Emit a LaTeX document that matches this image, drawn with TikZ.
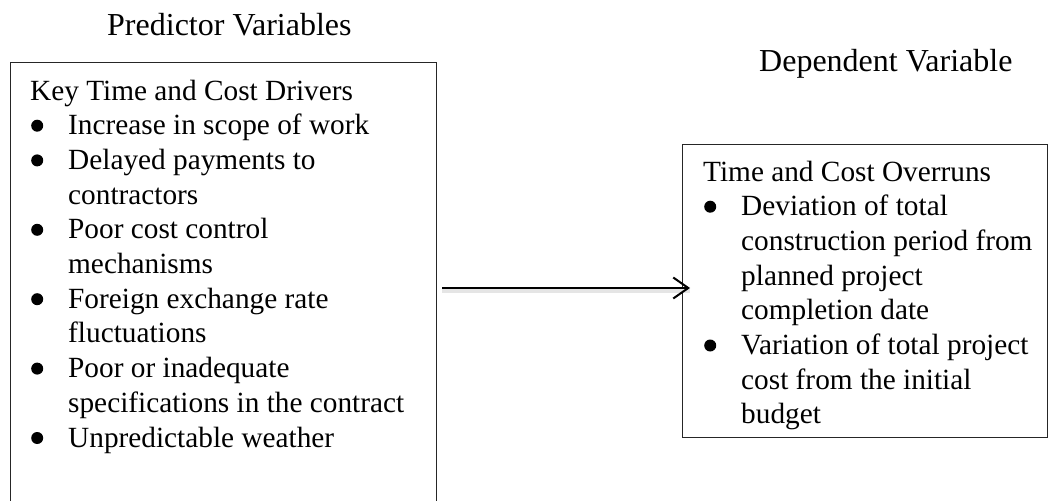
\documentclass[tikz,border=0pt]{standalone}
\usepackage{fontspec}
\setmainfont{Liberation Serif}
\usetikzlibrary{arrows.meta}
\tikzset{
  box/.style={draw=black!85, line width=1pt, anchor=north west, inner sep=0pt, outer sep=0pt},
  head/.style={anchor=base west, inner sep=0pt, font=\fontsize{32}{36}\selectfont},
  body/.style={anchor=base west, inner sep=0pt, font=\fontsize{29.3}{34.7}\selectfont},
  link/.style={line width=2pt, -{Straight Barb[length=15pt,width=21pt,line width=2pt]},
    preaction={draw=black!10, line width=4pt, -, transform canvas={yshift=-3pt}}}
}
\newcommand{\bul}{\makebox[38pt][l]{\hspace{1pt}\tikz[x=1pt,y=1pt,baseline=0pt]\fill (6,9) circle (6);}}
\begin{document}
\begin{tikzpicture}[x=1pt,y=-1pt]
\useasboundingbox (0,0) rectangle (1048,500);
\clip (0,0) rectangle (1048,500);
\node[head] (predictor) at (107,36) {Predictor Variables};
\node[head] (dependent) at (759,72) {Dependent Variable};
\node[box, minimum width=426pt, minimum height=450pt] (left) at (10,63) {};
\node[box, minimum width=365pt, minimum height=293pt] (right) at (682,144) {};
\node[body] (lefttext) at (30,100) {\begin{tabular}[t]{@{}l@{}l@{}}
\multicolumn{2}{@{}l@{}}{Key Time and Cost Drivers}\\
\bul & Increase in scope of work\\
\bul & Delayed payments to\\
 & contractors\\
\bul & Poor cost control\\
 & mechanisms\\
\bul & Foreign exchange rate\\
 & fluctuations\\
\bul & Poor or inadequate\\
 & specifications in the contract\\
\bul & Unpredictable weather
\end{tabular}};
\node[body] (righttext) at (703,181) {\begin{tabular}[t]{@{}l@{}l@{}}
\multicolumn{2}{@{}l@{}}{Time and Cost Overruns}\\
\bul & Deviation of total\\
 & construction period from\\
 & planned project\\
 & completion date\\
\bul & Variation of total project\\
 & cost from the initial\\
 & budget
\end{tabular}};
\draw[link] ([xshift=6pt]left.east) -- ([xshift=8pt]left.east -| right.west);
\end{tikzpicture}
\end{document}
